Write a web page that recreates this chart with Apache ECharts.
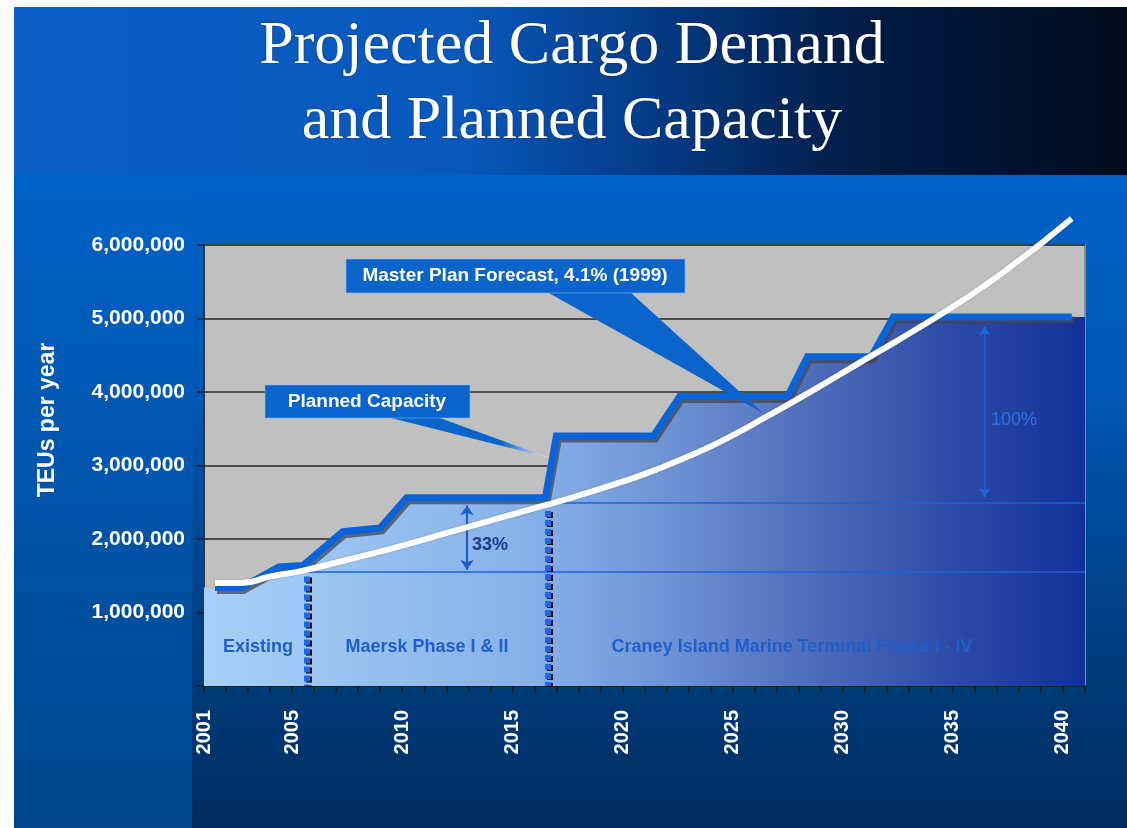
<!DOCTYPE html>
<html>
<head>
<meta charset="utf-8">
<title>Projected Cargo Demand and Planned Capacity</title>
<script src="https://cdn.jsdelivr.net/npm/echarts@6/dist/echarts.min.js"></script>
<style>
  html, body { margin: 0; padding: 0; background: #fff; }
  #main { width: 1127px; height: 828px; }
</style>
</head>
<body>
<div id="main"></div>
<script>
// values: x = year, y = TEUs per year
var yearLabels = [2001, 2005, 2010, 2015, 2020, 2025, 2030, 2035, 2040];

// planned capacity, step outline [year, TEUs]
var capacity = [
  [2001.5, 1340000], [2002.7, 1340000], [2004.4, 1620000], [2005.5, 1640000],
  [2007.3, 2100000], [2009.0, 2150000], [2010.2, 2560000], [2016.5, 2560000],
  [2017.0, 3400000], [2021.4, 3400000], [2022.6, 3940000], [2027.5, 3940000],
  [2028.4, 4480000], [2031.3, 4480000], [2032.3, 5020000], [2040.4, 5020000]
];
// the shading starts at the axis and carries on to the right edge of the plot
var capacityFillStart = [2001, 1340000];
var capacityFillEnd = [2041, 5020000];

// master plan forecast, 4.1% (1999)
var forecast = [
  [2001.5, 1400000], [2002.7, 1400000], [2004, 1490000], [2005.5, 1570000],
  [2007, 1680000], [2008.5, 1790000], [2010, 1910000], [2012, 2080000],
  [2014, 2250000], [2016.5, 2460000], [2018, 2590000], [2020, 2780000],
  [2021.5, 2940000], [2023.5, 3190000], [2025, 3410000], [2026.4, 3640000],
  [2028, 3910000], [2029.6, 4190000], [2031, 4440000], [2032.6, 4720000],
  [2035, 5160000], [2036.5, 5460000], [2038, 5790000], [2039, 6020000],
  [2040.4, 6360000]
];

// reference levels and phase boundaries
var baseLevel = 1553000;       // lower bracket line (2005)
var phase2Level = 2490000;     // upper bracket line (2016)
var dividerYears = [2005.65, 2016.6];
var dividerTops = [1490000, 2380000];
var arrow33 = [2012.94, 2460000, 1580000];
var arrow100 = [2036.45, 4890000, 2570000];

var font = '"Liberation Sans", Arial, sans-serif';
var G = echarts.graphic;

var chart = echarts.init(document.getElementById('main'));

var fillGrad = new G.LinearGradient(0, 0, 1, 0, [
  { offset: 0, color: '#a8d0f8' },
  { offset: 0.38, color: '#86b0e8' },
  { offset: 0.55, color: '#6b8ed2' },
  { offset: 0.7, color: '#4c6ab8' },
  { offset: 0.86, color: '#2c48a6' },
  { offset: 1, color: '#12309a' }
]);

function txt(text, x, y, f, color, extra) {
  var el = {
    type: 'text', x: x, y: y, z: 60,
    style: {
      text: text, font: f, fill: color,
      textAlign: 'center', align: 'center',
      textVerticalAlign: 'middle', verticalAlign: 'middle'
    }
  };
  for (var k in extra) el.style[k] = extra[k];
  return el;
}

var refLine = { color: '#1466dc', width: 1.5, type: 'solid' };
var dashLine = { color: '#1a6ae8', width: 6, type: [6, 3], shadowColor: '#000', shadowOffsetX: 2, shadowOffsetY: 1 };
var phaseShadow = { textShadowColor: 'rgba(0,0,60,0.45)', textShadowOffsetX: 1, textShadowOffsetY: 1 };

var option = {
  animation: false,
  backgroundColor: '#fff',
  grid: {
    left: 204, right: 42, top: 245, bottom: 142,
    show: true, backgroundColor: '#c0c0c0', borderColor: '#8c8c8c', borderWidth: 2
  },
  xAxis: {
    type: 'value', min: 2001, max: 2041, interval: 1,
    axisLine: { lineStyle: { color: '#1a1a1a', width: 1.5 } },
    axisTick: { length: 7, lineStyle: { color: '#1a1a1a', width: 1.5 } },
    splitLine: { show: false },
    axisLabel: {
      rotate: 90, margin: 24, color: '#fff', fontSize: 20, fontWeight: 'bold', fontFamily: font,
      formatter: function (v) { return yearLabels.indexOf(v) >= 0 ? String(v) : ''; }
    }
  },
  yAxis: {
    type: 'value', min: 0, max: 6000000, interval: 1000000,
    axisLine: { show: true, lineStyle: { color: '#1a1a1a', width: 1.5 } },
    axisTick: { show: true, length: 7, lineStyle: { color: '#1a1a1a', width: 1.5 } },
    splitLine: { lineStyle: { color: '#262626', width: 1.5 } },
    axisLabel: {
      margin: 19, color: '#fff', fontSize: 21, fontWeight: 'bold', fontFamily: font,
      formatter: function (v) { return v === 0 ? '' : v.toLocaleString('en-US'); }
    }
  },
  series: [
    {
      name: 'Capacity fill', type: 'line', z: 2, symbol: 'none',
      data: [capacityFillStart].concat(capacity, [capacityFillEnd]),
      lineStyle: { width: 0 },
      areaStyle: { color: fillGrad, opacity: 1 },
      markLine: {
        silent: true, symbol: 'none', label: { show: false },
        data: [
          [{ coord: [dividerYears[0], baseLevel], lineStyle: refLine }, { coord: [2041, baseLevel] }],
          [{ coord: [dividerYears[1], phase2Level], lineStyle: refLine }, { coord: [2041, phase2Level] }],
          [{ coord: [dividerYears[0], dividerTops[0]], lineStyle: dashLine }, { coord: [dividerYears[0], 0] }],
          [{ coord: [dividerYears[1], dividerTops[1]], lineStyle: dashLine }, { coord: [dividerYears[1], 0] }],
          [{ coord: [arrow33[0], arrow33[1]], symbol: 'arrow', symbolSize: 10,
             lineStyle: { color: '#1a5fc8', width: 2, type: 'solid' } },
           { coord: [arrow33[0], arrow33[2]], symbol: 'arrow', symbolSize: 10 }],
          [{ coord: [arrow100[0], arrow100[1]], symbol: 'arrow', symbolSize: 9,
             lineStyle: { color: '#1a6ad8', width: 1.5, type: 'solid' } },
           { coord: [arrow100[0], arrow100[2]], symbol: 'arrow', symbolSize: 9 }]
        ]
      }
    },
    {
      name: 'Planned Capacity', type: 'line', z: 4, symbol: 'none',
      data: capacity,
      lineStyle: {
        color: '#0864d8', width: 7, join: 'miter',
        shadowColor: 'rgba(70,70,80,0.75)', shadowOffsetX: 2, shadowOffsetY: 3
      }
    },
    {
      name: 'Master Plan Forecast', type: 'line', z: 6, symbol: 'none',
      data: forecast, smooth: 0.5, clip: false,
      lineStyle: { color: '#fff', width: 6, shadowColor: 'rgba(0,0,0,0.25)', shadowBlur: 2 }
    }
  ],
  graphic: {
    elements: [
      // slide background
      { type: 'rect', z: -10, shape: { x: 14, y: 7, width: 1113, height: 168 },
        style: { fill: new G.LinearGradient(0, 0, 1, 0, [
          { offset: 0, color: '#0a5fc6' }, { offset: 0.4, color: '#0858bc' },
          { offset: 0.58, color: '#043a84' }, { offset: 0.75, color: '#021d48' },
          { offset: 1, color: '#000a1a' }]) } },
      { type: 'rect', z: -10, shape: { x: 14, y: 175, width: 178, height: 653 },
        style: { fill: new G.LinearGradient(0, 0, 0, 1, [
          { offset: 0, color: '#0062c8' }, { offset: 1, color: '#00468c' }]) } },
      { type: 'rect', z: -10, shape: { x: 192, y: 175, width: 935, height: 653 },
        style: { fill: new G.LinearGradient(0, 0, 0, 1, [
          { offset: 0, color: '#0062c8' }, { offset: 0.35, color: '#0056b2' },
          { offset: 0.78, color: '#003a78' }, { offset: 1, color: '#002c60' }]) } },

      // title
      txt('Projected Cargo Demand', 572, 47, '62px "Liberation Serif", "Times New Roman", serif', '#fff',
        { textShadowColor: 'rgba(0,0,0,0.4)', textShadowBlur: 2 }),
      txt('and Planned Capacity', 572, 122, '62px "Liberation Serif", "Times New Roman", serif', '#fff',
        { textShadowColor: 'rgba(0,0,0,0.4)', textShadowBlur: 2 }),

      // y axis title
      { type: 'text', x: 48, y: 420, rotation: Math.PI / 2, z: 60,
        style: { text: 'TEUs per year', font: 'bold 23px ' + font, fill: '#fff',
          textAlign: 'center', align: 'center', textVerticalAlign: 'middle', verticalAlign: 'middle' } },

      // callout: master plan forecast
      { type: 'polygon', z: 50, shape: { points: [[547, 292], [630, 292], [763, 413]] },
        style: { fill: '#0a64cc' } },
      { type: 'rect', z: 50, shape: { x: 346, y: 259, width: 339, height: 34 },
        style: { fill: '#0a64cc', stroke: 'rgba(130,180,240,0.6)', lineWidth: 1 } },
      txt('Master Plan Forecast, 4.1% (1999)', 515, 276, 'bold 19px ' + font, '#fff'),

      // callout: planned capacity
      { type: 'polygon', z: 50, shape: { points: [[387, 417], [437, 417], [550, 458]] },
        style: { fill: new G.LinearGradient(0, 0, 1, 0, [
          { offset: 0, color: '#0a64cc' }, { offset: 0.7, color: '#0a64cc' },
          { offset: 1, color: '#e8f0ff' }]) } },
      { type: 'rect', z: 50, shape: { x: 265, y: 385, width: 205, height: 33 },
        style: { fill: '#0a64cc', stroke: 'rgba(130,180,240,0.6)', lineWidth: 1 } },
      txt('Planned Capacity', 367, 402, 'bold 19px ' + font, '#fff'),

      // bracket labels
      txt('33%', 490, 545, 'bold 18px ' + font, '#1a3a86'),
      txt('100%', 1014, 420, '18px ' + font, '#2a74e0'),

      // phase labels
      txt('Existing', 258, 647, 'bold 18px ' + font, '#1f5fcc', phaseShadow),
      txt('Maersk Phase I & II', 427, 647, 'bold 18px ' + font, '#1f5fcc', phaseShadow),
      txt('Craney Island Marine Terminal Phase I - IV', 792, 647, 'bold 18px ' + font, '#1f5fcc', phaseShadow)
    ]
  }
};

chart.setOption(option);
</script>
</body>
</html>
